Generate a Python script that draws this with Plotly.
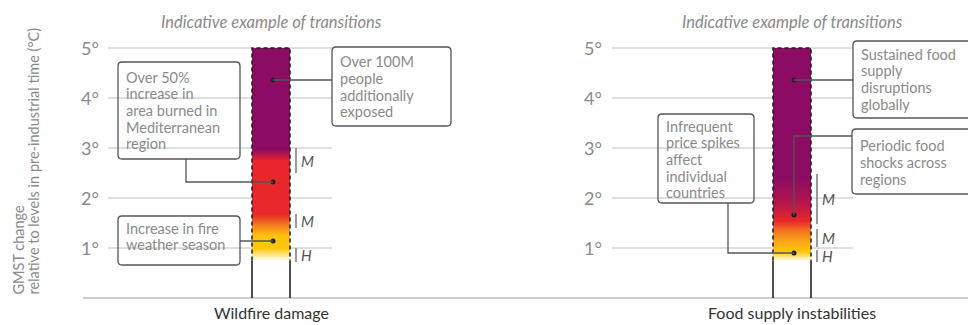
import numpy as np
import plotly.graph_objects as go

# ---------------- data ----------------
categories = ["Wildfire damage", "Food supply instabilities"]
tick_values = [1, 2, 3, 4, 5]
tick_labels = ["1°", "2°", "3°", "4°", "5°"]
panel_title = "Indicative example of transitions"
y_title_lines = ["GMST change", "relative to levels in pre-industrial time (°C)"]

bar_bottom = [0.75, 0.75]
bar_top = [5.0, 5.0]

# colour transitions along the bar (GMST level, colour)
wildfire_stop_levels = [0.75, 1.0, 1.25, 1.45, 1.68, 2.75, 2.97, 5.0]
wildfire_stop_colors = ["#ffffff", "#ffc70a", "#ffc20e", "#f5821f", "#e8282b", "#e8262b", "#8c0c63", "#8c0c63"]
food_stop_levels = [0.75, 0.92, 1.15, 1.38, 1.55, 1.9, 2.4, 5.0]
food_stop_colors = ["#ffffff", "#ffc80a", "#f9a51a", "#f26a22", "#e8262b", "#b5164a", "#8c0c63", "#8c0c63"]

# confidence ranges
wildfire_conf_low = [2.5, 1.4, 0.72]
wildfire_conf_high = [3.0, 1.68, 1.0]
wildfire_conf_label = ["M", "M", "H"]
food_conf_low = [1.48, 1.02, 0.72]
food_conf_high = [2.48, 1.38, 0.96]
food_conf_label = ["M", "M", "H"]

# transition points (GMST level) and their descriptions
wildfire_points = [4.36, 2.32, 1.14]
wildfire_texts = [["Over 100M", "people", "additionally", "exposed"],
                  ["Over 50%", "increase in", "area burned in", "Mediterranean", "region"],
                  ["Increase in fire", "weather season"]]
food_points = [4.36, 1.66, 0.9]
food_texts = [["Sustained food", "supply", "disruptions", "globally"],
              ["Periodic food", "shocks across", "regions"],
              ["Infrequent", "price spikes", "affect", "individual", "countries"]]

# ---------------- layout constants (pixels) ----------------
W, H = 968, 325
Y0_PX = 298.0     # pixel row of 0 °C
PX_PER_DEG = 50.0
FONT = "Lato"
GREY_TXT = "#8a8a8a"
LINE_COL = "#555555"

def d(py):
    """pixel row -> GMST value on the y scale"""
    return (Y0_PX - py) / PX_PER_DEG

panel_center = [271, 792]
bar_w = 38
grid_extent = [(108, 332), (612, 853)]
tick_label_right = [101, 604]
conf_x = [296, 817]

boxes = [
    [dict(x0=332, x1=451, y0=47, y1=126, base=66.5, kind="h_right"),
     dict(x0=118, x1=240, y0=62, y1=159, base=82, kind="elbow_bottom", cx=186),
     dict(x0=118, x1=240, y0=216, y1=265, base=233, kind="h_left")],
    [dict(x0=853, x1=980, y0=41, y1=118, base=59, kind="h_right"),
     dict(x0=852, x1=980, y0=129, y1=194, base=150.5, kind="elbow_side", sy=136),
     dict(x0=658, x1=754, y0=114, y1=203, base=131, kind="elbow_bottom", cx=728)],
]
LINE_H = 16.6
BOX_FS = 14.5

fig = go.Figure()
shapes = []
annotations = []

shapes.append(dict(type="line", xref="x", yref="y", x0=83, x1=W, y0=0, y1=0,
                   line=dict(color="#cfcfcf", width=2), layer="below"))
for p in range(2):
    for tv, tl in zip(tick_values, tick_labels):
        shapes.append(dict(type="line", xref="x", yref="y", x0=grid_extent[p][0], x1=grid_extent[p][1],
                           y0=tv, y1=tv, line=dict(color="#d4d4d4", width=1.5), layer="below"))
        annotations.append(dict(x=tick_label_right[p], y=tv, xref="x", yref="y", text=tl,
                                showarrow=False, xanchor="right", yanchor="middle",
                                font=dict(family=FONT, size=18, color=GREY_TXT)))

stops = [(wildfire_stop_levels, wildfire_stop_colors), (food_stop_levels, food_stop_colors)]
confs = [(wildfire_conf_low, wildfire_conf_high, wildfire_conf_label),
         (food_conf_low, food_conf_high, food_conf_label)]
points = [wildfire_points, food_points]
texts = [wildfire_texts, food_texts]

for p, cat in enumerate(categories):
    c = panel_center[p]
    xl, xr = c - bar_w / 2, c + bar_w / 2
    lo, hi = bar_bottom[p], bar_top[p]
    lv, cl = stops[p]
    cs = [[(v - lo) / (hi - lo), col] for v, col in zip(lv, cl)]
    yedges = np.linspace(lo, hi, 341)
    mids = (yedges[:-1] + yedges[1:]) / 2
    fig.add_trace(go.Heatmap(x=[xl, xr], y=yedges, z=[[m] for m in mids], zmin=lo, zmax=hi,
                             colorscale=cs, showscale=False, hoverinfo="skip"))
    shapes.append(dict(type="path", xref="x", yref="y",
                       path=f"M {xl},{lo} L {xl},{hi} L {xr},{hi} L {xr},{lo}",
                       line=dict(color="#222222", width=1.6, dash="4px,3px")))
    for xx in (xl, xr):
        shapes.append(dict(type="line", xref="x", yref="y", x0=xx, x1=xx, y0=0, y1=lo,
                           line=dict(color="#222222", width=1.6)))
    clo, chi, clab = confs[p]
    for a, b, lab in zip(clo, chi, clab):
        shapes.append(dict(type="line", xref="x", yref="y", x0=conf_x[p], x1=conf_x[p], y0=a, y1=b,
                           line=dict(color="#777777", width=1.5)))
        annotations.append(dict(x=conf_x[p] + 3, y=(a + b) / 2, xref="x", yref="y", text=f"<i>{lab}</i>",
                                showarrow=False, xanchor="left", yanchor="middle",
                                font=dict(family=FONT, size=15, color="#555555")))
    annotations.append(dict(x=c, y=d(22), xref="x", yref="y", text=f"<i>{panel_title}</i>",
                            showarrow=False, xanchor="center", yanchor="middle",
                            font=dict(family=FONT, size=16.5, color=GREY_TXT)))
    annotations.append(dict(x=c, y=d(312), xref="x", yref="y", text=cat,
                            showarrow=False, xanchor="center", yanchor="middle",
                            font=dict(family=FONT, size=16, color="#333333")))
    for k, bx in enumerate(boxes[p]):
        x0, x1, t, b = bx["x0"], bx["x1"], bx["y0"], bx["y1"]
        r = 4
        path = (f"M {x0 + r},{d(t)} L {x1 - r},{d(t)} Q {x1},{d(t)} {x1},{d(t + r)} "
                f"L {x1},{d(b - r)} Q {x1},{d(b)} {x1 - r},{d(b)} L {x0 + r},{d(b)} "
                f"Q {x0},{d(b)} {x0},{d(b - r)} L {x0},{d(t + r)} Q {x0},{d(t)} {x0 + r},{d(t)} Z")
        shapes.append(dict(type="path", xref="x", yref="y", path=path,
                           line=dict(color=LINE_COL, width=1.3), fillcolor="rgba(255,255,255,0)"))
        for i, line in enumerate(texts[p][k]):
            annotations.append(dict(x=x0 + 6, y=d(bx["base"] + i * LINE_H - 4.7), xref="x", yref="y",
                                    text=line, showarrow=False, xanchor="left", yanchor="middle",
                                    font=dict(family=FONT, size=BOX_FS, color=GREY_TXT)))
        py = points[p][k]
        dx = c + 2
        if bx["kind"] == "h_right":
            cpath = f"M {dx},{py} L {x0},{py}"
        elif bx["kind"] == "h_left":
            cpath = f"M {x1},{py} L {dx},{py}"
        elif bx["kind"] == "elbow_bottom":
            cpath = f"M {bx['cx']},{d(b)} L {bx['cx']},{py} L {dx},{py}"
        else:
            cpath = f"M {x0},{d(bx['sy'])} L {dx},{d(bx['sy'])} L {dx},{py}"
        shapes.append(dict(type="path", xref="x", yref="y", path=cpath,
                           line=dict(color=LINE_COL, width=1.3)))
        fig.add_trace(go.Scatter(x=[dx], y=[py], mode="markers", hoverinfo="skip",
                                 marker=dict(color="#222222", size=5), showlegend=False))

for xx, line in zip([18, 33], y_title_lines):
    annotations.append(dict(x=xx, y=d(297), xref="x", yref="y", text=line, textangle=-90,
                            showarrow=False, xanchor="center", yanchor="bottom",
                            font=dict(family=FONT, size=14.5, color=GREY_TXT)))

fig.update_layout(
    width=W, height=H, margin=dict(l=0, r=0, t=0, b=0),
    paper_bgcolor="white", plot_bgcolor="white", showlegend=False,
    xaxis=dict(range=[0, W], visible=False, fixedrange=True),
    yaxis=dict(range=[d(H), d(0)], visible=False, fixedrange=True),
    shapes=shapes, annotations=annotations,
)
fig.write_html("out.html", config={"displayModeBar": False},
               post_script="document.body.style.margin='0';document.body.style.overflow='hidden';")
